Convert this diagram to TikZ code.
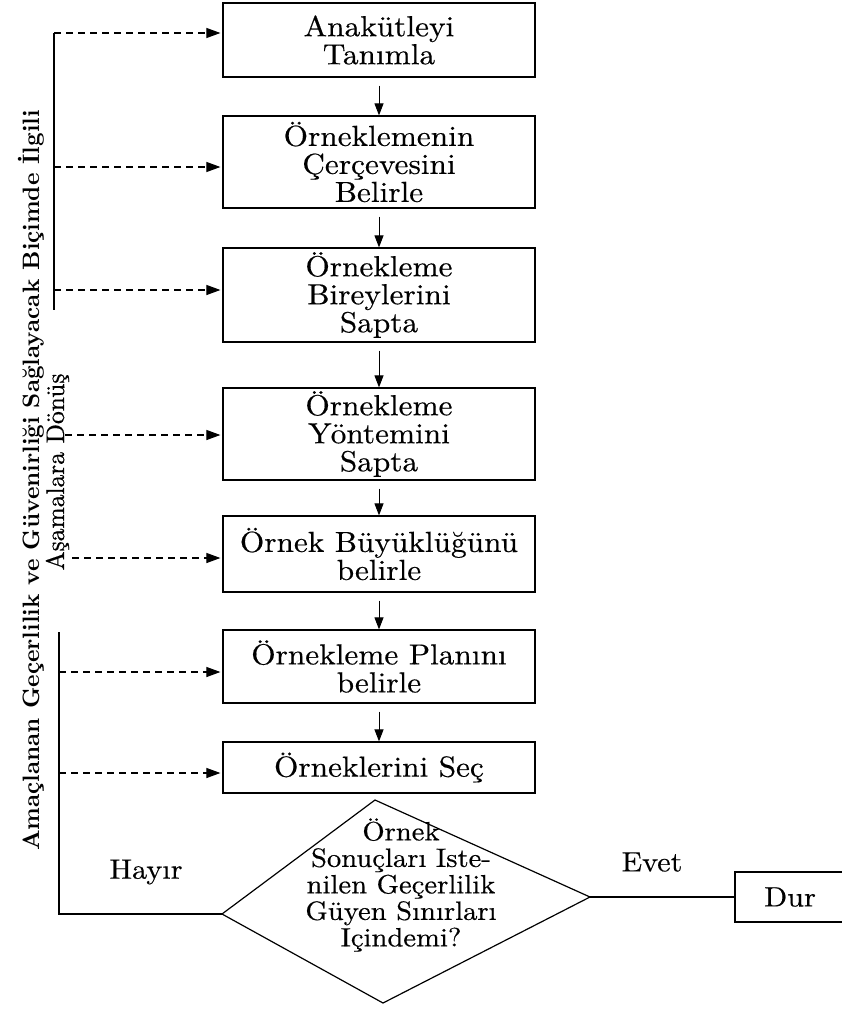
\documentclass[tikz,border=0pt]{standalone}
\usepackage{fontspec}
\newfontfamily\century{lmroman10-regular.otf}[FakeStretch=1.08,FakeBold=0.4]
\newfontfamily\capbold{lmroman10-bold.otf}
\newfontfamily\capfont{lmroman10-regular.otf}[FakeBold=0.6]
\usetikzlibrary{arrows.meta}
\begin{document}
\begin{tikzpicture}[x=1pt,y=-1pt,
  box/.style={draw, line width=1.2pt, inner sep=0pt, align=center,
    minimum width=312pt, font=\century\fontsize{29}{28}\selectfont},
  flow/.style={-{Triangle[length=12pt,width=9pt]}, line width=1pt, shorten <=8pt},
  back/.style={dash pattern=on 7pt off 5pt, line width=1.1pt, shorten >=2pt,
    -{Triangle[length=14pt,width=10pt]}},
  solidline/.style={line width=1.2pt},
  lab/.style={font=\century\fontsize{28}{28}\selectfont}]
\useasboundingbox (0,0) rectangle (841,1009);

% process boxes
\node[box, minimum height=74pt] (b1) at (379,40) {Anakütleyi\\Tanımla};
\node[box, minimum height=92pt] (b2) at (379,162) {Örneklemenin\\Çerçevesini\\Belirle};
\node[box, minimum height=94pt] (b3) at (379,295) {Örnekleme\\Bireylerini\\Sapta};
\node[box, minimum height=92pt] (b4) at (379,434) {Örnekleme\\Yöntemini\\Sapta};
\node[box, minimum height=76pt] (b5) at (379,554) {Örnek Büyüklüğünü\\belirle};
\node[box, minimum height=73pt] (b6) at (379,666.5) {Örnekleme Planını\\belirle};
\node[box, minimum height=51pt] (b7) at (379,767.5) {Örneklerini Seç};

\draw[flow] (b1) -- (b2);
\draw[flow] (b2) -- (b3);
\draw[flow] (b3) -- (b4);
\draw[flow] (b4) -- (b5);
\draw[flow] (b5) -- (b6);
\draw[flow] (b6) -- (b7);

% decision diamond
\coordinate (dT) at (375,800);
\coordinate (dR) at (590,897);
\coordinate (dB) at (383,1003);
\coordinate (dL) at (222,914);
\draw[solidline] (dT) -- (dR) -- (dB) -- (dL) -- cycle;
\node[font=\century\fontsize{26.5}{26.5}\selectfont, align=center, inner sep=0pt] (dq) at (401,885)
  {Örnek\\Sonuçları Iste-\\nilen Geçerlilik\\Güyen Sınırları\\Içindemi?};

% stop box (right side runs off the page)
\node[draw, line width=1.2pt, minimum width=130pt, minimum height=50pt, inner sep=0pt,
  font=\century\fontsize{28}{28}\selectfont] (dur) at (800,897) {\hspace*{-20pt}Dur};
\draw[solidline] (dR) -- (dur.west);
\node[lab] (evet) at (652,862) {Evet};
\node[lab] (hayir) at (146,872) {Hayır};

% feedback brackets
\coordinate (u1) at (54,33);
\coordinate (u2) at (54,167);
\coordinate (u3) at (54,290);
\coordinate (ub) at (54,310);
\draw[solidline] (u1) -- (ub);
\coordinate (m4) at (65,435);
\coordinate (m5) at (72,558);
\coordinate (lt) at (59,632);
\coordinate (l6) at (59,672);
\coordinate (l7) at (59,773);
\coordinate (lb) at (59,914);
\draw[solidline] (lt) -- (lb) -- (dL);

\draw[back] (u1) -- (u1 -| b1.west);
\draw[back] (u2) -- (u2 -| b2.west);
\draw[back] (u3) -- (u3 -| b3.west);
\draw[back] (m4) -- (m4 -| b4.west);
\draw[back] (m5) -- (m5 -| b5.west);
\draw[back] (l6) -- (l6 -| b6.west);
\draw[back] (l7) -- (l7 -| b7.west);

% rotated side captions
\node[rotate=90, anchor=base, inner sep=0pt, font=\capbold\fontsize{23.7}{24}\selectfont] (cap1) at (39,480.5)
  {Amaçlanan Geçerlilik ve Güvenirliği Sağlayacak Biçimde İlgili};
\node[rotate=90, anchor=base, inner sep=0pt, font=\capfont\fontsize{25.5}{26}\selectfont] (cap2) at (64,472)
  {Aşamalara Dönüş};
\end{tikzpicture}
\end{document}
